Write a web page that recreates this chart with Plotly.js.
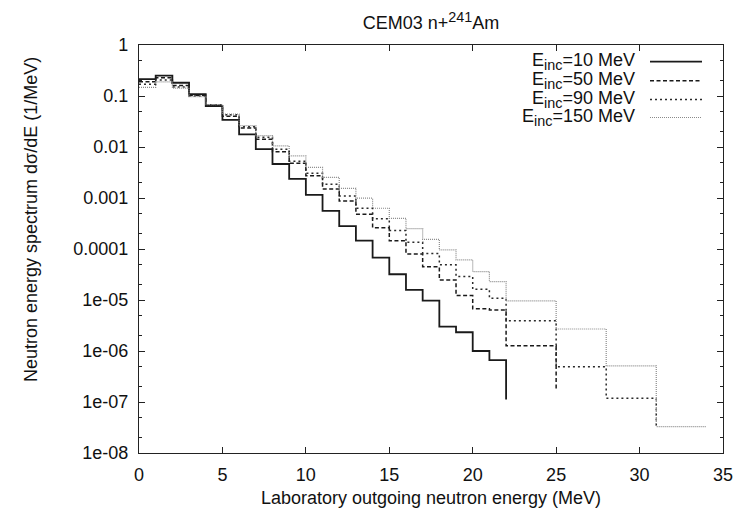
<!DOCTYPE html>
<html>
<head>
<meta charset="utf-8">
<script src="https://cdn.plot.ly/plotly-3.0.1.min.js"></script>
<style>html,body{margin:0;padding:0;background:#fff;}#chart{width:751px;height:514px;}</style>
</head>
<body>
<div id="chart"></div>
<script>
// Bin left edges (MeV) and spectrum values (1/MeV), gnuplot "steps" style
const edges10 = [0,1,2,3,4,5,6,7,8,9,10,11,12,13,14,15,16,17,18,19,20,21,22];
const spec10 = [0.215,0.25,0.182,0.109,0.0637,0.0339,0.0177,0.0091,0.00464,0.00238,0.00115,5.6e-4,2.8e-4,1.46e-4,6.8e-5,3.2e-5,1.58e-5,9.7e-6,3.0e-6,2.33e-6,1.0e-6,6.6e-7,1.12e-7];

const edges50 = [0,1,2,3,4,5,6,7,8,9,10,11,12,13,14,15,16,17,18,19,20,21,22,25];
const spec50 = [0.19,0.228,0.16,0.103,0.066,0.040,0.0236,0.0142,0.0081,0.00478,0.00274,0.0015,8.7e-4,4.8e-4,2.6e-4,1.45e-4,8.0e-5,4.5e-5,2.47e-5,1.22e-5,6.7e-6,6.4e-6,1.27e-6,1.73e-7];

const edges90 = [0,1,2,3,4,5,6,7,8,9,10,11,12,13,14,15,16,17,18,19,20,21,22,25,28,31];
const spec90 = [0.17,0.206,0.15,0.1,0.067,0.043,0.025,0.0155,0.009,0.00524,0.00305,0.00186,0.0011,6.3e-4,3.9e-4,2.3e-4,1.35e-4,8.2e-5,4.9e-5,2.9e-5,1.62e-5,1.08e-5,3.9e-6,4.9e-7,1.18e-7,3.3e-8];

const edges150 = [0,1,2,3,4,5,6,7,8,9,10,11,12,13,14,15,16,17,18,19,20,21,22,25,28,31,34];
const spec150 = [0.148,0.19,0.143,0.097,0.068,0.044,0.0262,0.0167,0.0105,0.00667,0.004,0.00254,0.00155,9.9e-4,6.3e-4,4.0e-4,2.5e-4,1.55e-4,9.6e-5,6.1e-5,3.6e-5,2.3e-5,9.6e-6,2.7e-6,5.1e-7,3.3e-8,3.3e-8];

const incEnergies = ["10","50","90","150"];
const xTicks = [0,5,10,15,20,25,30,35];
const yTickVals = [1,0.1,0.01,0.001,0.0001,1e-5,1e-6,1e-7,1e-8];
const yTickText = ["1","0.1","0.01","0.001","0.0001","1e-05","1e-06","1e-07","1e-08"];

const FS = 18;
const subSpan = t => '<span style="font-size:14.4px">' + t + '</span>';
const seriesNames = incEnergies.map(e => 'E<sub>' + subSpan('inc') + '</sub>=' + e + ' MeV');

const styles = [
  {color:'#1a1a1a', width:1.8, dash:'solid'},
  {color:'#1a1a1a', width:1.5, dash:'4px,2.5px'},
  {color:'#2a2a2a', width:1.5, dash:'2px,3px'},
  {color:'#8a8a8a', width:1.2, dash:'1px,1px'}
];

const xs = [edges10, edges50, edges90, edges150];
const ys = [spec10, spec50, spec90, spec150];
const traces = xs.map((x,i)=>({
  x: x, y: ys[i], type:'scatter', mode:'lines', name: 'E_inc=' + incEnergies[i] + ' MeV',
  line: {shape:'hv', color: styles[i].color, width: styles[i].width, dash: styles[i].dash},
  showlegend:false, hoverinfo:'skip'
}));

// minor log ticks at 2 and 5 of each decade
const minorVals = [];
for (let e=-8; e<0; e++){ minorVals.push(2*Math.pow(10,e)); minorVals.push(5*Math.pow(10,e)); }

const L=139, R=723, T=45, B=453, W=751, H=514;
const px2x = p => (p-L)/(R-L);
const px2y = p => (B-p)/(B-T);

const font = "'Liberation Sans', Arial, Helvetica, sans-serif";
const legendRows = [61.7, 80.7, 99.5, 117.5];
const annotations = seriesNames.map((t,i)=>({
  text: t, xref:'paper', yref:'paper', x: px2x(637), y: px2y(legendRows[i]),
  xanchor:'right', yanchor:'middle', showarrow:false,
  font:{family:font, size:FS, color:'#111'}
}));
annotations.push({
  text:'Neutron energy spectrum d\u03C3/dE (1/MeV)', xref:'paper', yref:'paper',
  x: px2x(31), y: px2y(220), xanchor:'center', yanchor:'middle', textangle:-90,
  showarrow:false, font:{family:font, size:FS, color:'#111'}
});
const shapes = styles.map((s,i)=>({
  type:'line', xref:'paper', yref:'paper',
  x0: px2x(650), x1: px2x(702), y0: px2y(legendRows[i]), y1: px2y(legendRows[i]),
  line:{color:s.color, width:s.width, dash:s.dash}
}));

const layout = {
  width:W, height:H,
  margin:{l:L, r:W-R, t:T, b:H-B, pad:0},
  paper_bgcolor:'#fff', plot_bgcolor:'#fff',
  font:{family:font, size:FS, color:'#111'},
  title:{text:'CEM03 n+<sup>' + subSpan('241') + '</sup>Am', xref:'paper', x:0.5, xanchor:'center',
         yref:'container', y:1-23/H, yanchor:'middle', font:{family:font, size:FS, color:'#111'}},
  xaxis:{
    range:[0,35], tickmode:'array', tickvals:xTicks, ticktext:xTicks.map(String),
    ticks:'inside', ticklen:6, tickwidth:1, tickcolor:'#222',
    showline:true, linecolor:'#222', linewidth:1.2, mirror:'allticks',
    showgrid:false, zeroline:false, ticklabelstandoff:5,
    tickfont:{family:font, size:FS, color:'#111'},
    title:{text:'Laboratory outgoing neutron energy (MeV)', font:{family:font, size:FS, color:'#111'}, standoff:7}
  },
  yaxis:{
    type:'log', range:[-8,0], tickmode:'array', tickvals:yTickVals, ticktext:yTickText,
    ticks:'inside', ticklen:6, tickwidth:1, tickcolor:'#222',
    showline:true, linecolor:'#222', linewidth:1.2, mirror:'allticks',
    showgrid:false, zeroline:false, ticklabelstandoff:6,
    tickfont:{family:font, size:FS, color:'#111'},
    minor:{tickmode:'array', tickvals:minorVals, ticks:'inside', ticklen:3, tickcolor:'#222', showgrid:false}
  },
  annotations: annotations,
  shapes: shapes
};

Plotly.newPlot('chart', traces, layout, {displayModeBar:false, staticPlot:true});
</script>
</body>
</html>
